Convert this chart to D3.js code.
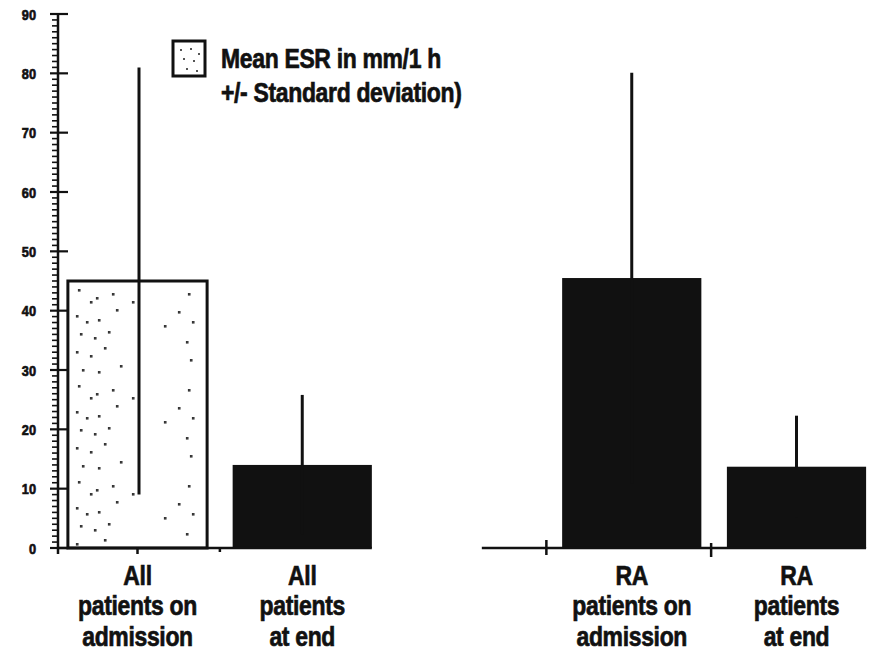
<!DOCTYPE html>
<html>
<head>
<meta charset="utf-8">
<script src="https://cdn.jsdelivr.net/npm/d3@7"></script>
<style>
  html, body { margin: 0; padding: 0; background: #fff; }
  svg { display: block; }
  text { font-family: "Liberation Sans", Arial, sans-serif; font-weight: bold; fill: #111; stroke: #111; stroke-width: 0.7px; paint-order: stroke; }
</style>
</head>
<body>
<svg id="chart" width="871" height="653"></svg>
<script>
// ESR values (mm/1 h): group means and standard deviations
const categories = ["All patients on admission", "All patients at end", "RA patients on admission", "RA patients at end"];
const labelLines = [["All", "patients on", "admission"], ["All", "patients", "at end"], ["RA", "patients on", "admission"], ["RA", "patients", "at end"]];
const meanESR = [45, 14, 45.5, 13.7];
const sdESR = [36, 11.8, 34.6, 8.6];
const stippled = [true, false, false, false];
const yTicks = [0, 10, 20, 30, 40, 50, 60, 70, 80, 90];
const legendLines = ["Mean ESR in mm/1 h", "+/- Standard deviation)"];

const svg = d3.select("#chart");
const ink = "#111";
const narrow = 0.82; // horizontal squeeze for a condensed type look

// slots: two groups separated by an empty slot
const slots = [categories[0], categories[1], "gap", categories[2], categories[3]];
const x = d3.scalePoint().domain(slots).range([137.5, 796.5]);
const step = x.step();
const barW = step * 0.845;
const y = d3.scaleLinear().domain([0, 90]).range([548, 14]);
const axisX = 58;

// stipple texture for the open bar
const defs = svg.append("defs");
const pat = defs.append("pattern").attr("id", "stipple")
  .attr("patternUnits", "userSpaceOnUse").attr("width", 139).attr("height", 96)
  .attr("x", x(categories[0]) - barW / 2).attr("y", y(45));
const specks = [[10,8],[22,20],[28,16],[8,34],[18,40],[30,38],[12,52],[26,56],[40,50],[8,70],[22,74],[36,66],
  [48,28],[52,84],[14,88],[30,90],[120,12],[124,40],[118,60],[122,78],[110,30],[44,12],[96,44],[64,20]];
pat.selectAll("rect").data(specks).join("rect")
  .attr("x", d => d[0]).attr("y", d => d[1]).attr("width", 2.6).attr("height", 2.6).attr("fill", "#333");

// bars
const bars = categories.map((c, i) => ({ c, mean: meanESR[i], sd: sdESR[i], open: stippled[i] }));
svg.selectAll("rect.bar").data(bars).join("rect").attr("class", "bar")
  .attr("x", d => x(d.c) - barW / 2)
  .attr("y", d => y(d.mean))
  .attr("width", barW)
  .attr("height", d => y(0) - y(d.mean))
  .attr("fill", d => d.open ? "url(#stipple)" : ink)
  .attr("stroke", ink)
  .attr("stroke-width", d => d.open ? 3 : 0);

// error bars (mean ± SD)
svg.selectAll("line.err").data(bars).join("line").attr("class", "err")
  .attr("x1", d => x(d.c) + (d.open ? 1.5 : 0)).attr("x2", d => x(d.c) + (d.open ? 1.5 : 0))
  .attr("y1", d => y(d.mean - d.sd)).attr("y2", d => y(d.mean + d.sd))
  .attr("stroke", ink).attr("stroke-width", 3);

// y axis with major and minor ticks
const yAxis = d3.axisLeft(y).tickValues(yTicks).tickSize(0).tickPadding(0).tickFormat(d3.format("d"));
const gy = svg.append("g").attr("transform", `translate(${axisX},0)`).call(yAxis);
gy.select(".domain").remove();
gy.selectAll(".tick text")
  .attr("x", 0).attr("font-size", 15).attr("dy", "0.35em").attr("text-anchor", "end")
  .attr("transform", "translate(-22,0) scale(0.85,1)");
svg.append("line").attr("x1", axisX).attr("x2", axisX).attr("y1", y(90)).attr("y2", y(0) + 6)
  .attr("stroke", ink).attr("stroke-width", 2.5);
svg.selectAll("line.major").data(yTicks).join("line").attr("class", "major")
  .attr("x1", axisX - 8).attr("x2", axisX + 10).attr("y1", d => y(d)).attr("y2", d => y(d))
  .attr("stroke", ink).attr("stroke-width", 2.2);
svg.selectAll("line.minor").data(d3.range(0, 90, 1).filter(v => v % 10 !== 0)).join("line").attr("class", "minor")
  .attr("x1", axisX - 6).attr("x2", axisX).attr("y1", d => y(d)).attr("y2", d => y(d))
  .attr("stroke", ink).attr("stroke-width", 1.6);

// broken baseline
const base = y(0);
svg.append("line").attr("x1", axisX).attr("x2", x(categories[1]) + barW / 2).attr("y1", base).attr("y2", base)
  .attr("stroke", ink).attr("stroke-width", 2.5);
svg.append("line").attr("x1", x("gap") + step * 0.09).attr("x2", x(categories[3]) + barW / 2).attr("y1", base).attr("y2", base)
  .attr("stroke", ink).attr("stroke-width", 2.5);
// baseline tick marks between slots
const xTicks = [
  { pos: x(categories[0]), up: 1, down: 6 },
  { pos: (x(categories[0]) + x(categories[1])) / 2, up: 0, down: 4 },
  { pos: (x("gap") + x(categories[2])) / 2 - 3, up: 8, down: 7 },
  { pos: (x(categories[2]) + x(categories[3])) / 2 - 3, up: 5, down: 9 }
];
svg.selectAll("line.xt").data(xTicks).join("line").attr("class", "xt")
  .attr("x1", d => d.pos).attr("x2", d => d.pos)
  .attr("y1", d => base - d.up).attr("y2", d => base + d.down)
  .attr("stroke", ink).attr("stroke-width", 2.5);

// category labels (three lines under each bar)
svg.selectAll("g.cat").data(bars).join("g").attr("class", "cat")
  .attr("transform", d => `translate(${x(d.c)},0) scale(${narrow},1)`)
  .each(function (d, i) {
    d3.select(this).selectAll("text").data(labelLines[i]).join("text")
      .attr("x", 0).attr("y", (t, j) => 585 + j * 30.5)
      .attr("text-anchor", "middle").attr("font-size", 28).attr("letter-spacing", -0.4)
      .text(t => t);
  });

// legend
const lg = svg.append("g");
lg.append("rect").attr("x", 173).attr("y", 41).attr("width", 32).attr("height", 35)
  .attr("fill", "#fff").attr("stroke", ink).attr("stroke-width", 3);
const legSpecks = [[180, 49], [190, 48], [183, 58], [193, 60], [198, 53], [186, 68], [196, 70]];
lg.selectAll("rect.sp").data(legSpecks).join("rect").attr("class", "sp")
  .attr("x", d => d[0]).attr("y", d => d[1]).attr("width", 2).attr("height", 2).attr("fill", "#555");
lg.append("g").attr("transform", `translate(221,0) scale(${narrow},1)`)
  .selectAll("text").data(legendLines).join("text")
  .attr("x", 0).attr("y", (d, i) => 68 + i * 34)
  .attr("font-size", 28).attr("letter-spacing", -0.4)
  .text(d => d);
</script>
</body>
</html>
